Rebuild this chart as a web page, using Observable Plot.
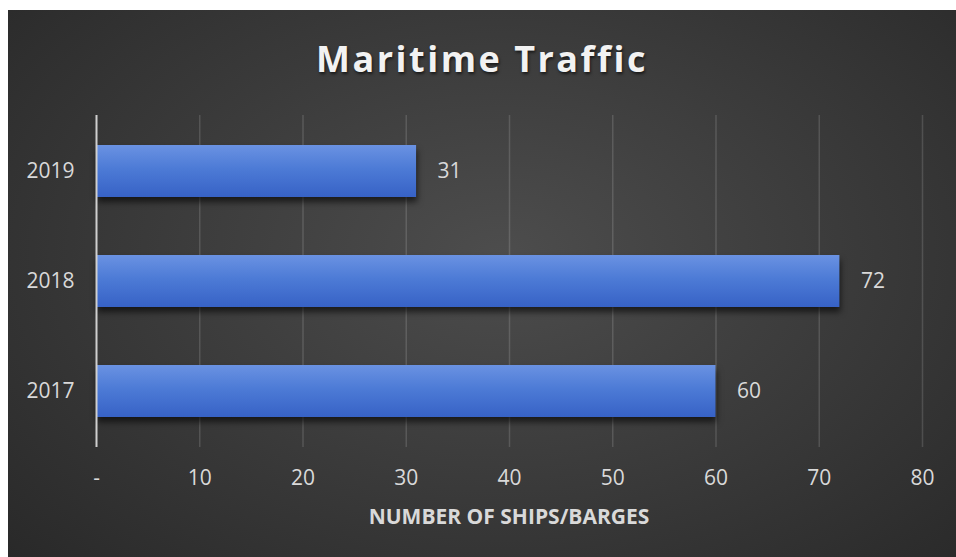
<!DOCTYPE html>
<html>
<head>
<meta charset="utf-8">
<script src="https://cdn.jsdelivr.net/npm/d3@7"></script>
<script src="https://cdn.jsdelivr.net/npm/@observablehq/plot@0.6"></script>
<style>
  html, body { margin: 0; padding: 0; background: #ffffff; }
  #chart {
    position: absolute; left: 8px; top: 10px; width: 948px; height: 547px; overflow: hidden;
    background: radial-gradient(ellipse 75% 85% at 52% 45%, #4d4d4d 0%, #3c3c3c 45%, #272727 100%);
    font-family: "Open Sans", sans-serif;
  }
  #title {
    position: absolute; left: 0; top: 31px; width: 100%; text-align: center;
    font-size: 36px; line-height: 36px; font-weight: 700; letter-spacing: 2.5px;
    color: #f2f2f2; text-shadow: 1px 2px 3px rgba(0,0,0,0.6);
  }
  #xtitle {
    position: absolute; left: 0; top: 492px; width: 1002px; text-align: center;
    font-size: 21px; line-height: 28px; font-weight: 700; color: #d9d9d9;
  }
  #chart svg { position: absolute; left: 0; top: 0; }
</style>
</head>
<body>
<div id="chart">
  <div id="title">Maritime Traffic</div>
  <div id="xtitle">NUMBER OF SHIPS/BARGES</div>
</div>
<script>
const years = ["2019", "2018", "2017"];
const ships = [31, 72, 60];
const xTicks = [0, 10, 20, 30, 40, 50, 60, 70, 80];
const gridTicks = [10, 20, 30, 40, 50, 60, 70, 80];

const data = years.map((y, i) => ({year: y, value: ships[i]}));

const svg = Plot.plot({
  width: 948,
  height: 547,
  marginLeft: 88,
  marginRight: 34,
  marginTop: 105,
  marginBottom: 110,
  style: {background: "transparent", color: "#d9d9d9", fontFamily: "Open Sans, sans-serif", overflow: "visible"},
  x: {domain: [0, 80]},
  y: {type: "band", domain: years, paddingInner: 0.53, paddingOuter: 0.265},
  marks: [
    Plot.ruleX(gridTicks, {stroke: "#ffffff", strokeOpacity: 0.14, strokeWidth: 1.5}),
    Plot.barX(data, {x: "value", y: "year", fill: "url(#barGrad)"}),
    Plot.ruleX([0], {stroke: "#cfcfcf", strokeWidth: 2}),
    Plot.text(data, {x: "value", y: "year", text: d => String(d.value), textAnchor: "start", dx: 21, fontSize: 21, fill: "#d9d9d9"}),
    Plot.axisX(xTicks, {anchor: "bottom", tickSize: 0, tickPadding: 23, fontSize: 21, fill: "#d9d9d9", label: null, tickFormat: d => d === 0 ? "-" : String(d)}),
    Plot.axisY({anchor: "left", tickSize: 0, tickPadding: 22, fontSize: 21, fill: "#d9d9d9", label: null})
  ]
});

const ns = "http://www.w3.org/2000/svg";
const defs = document.createElementNS(ns, "defs");
defs.innerHTML = `
  <linearGradient id="barGrad" x1="0" y1="0" x2="0" y2="1">
    <stop offset="0" stop-color="#6a92e2"/>
    <stop offset="0.45" stop-color="#4d7bd6"/>
    <stop offset="1" stop-color="#3762c6"/>
  </linearGradient>`;
svg.insertBefore(defs, svg.firstChild);
d3.select(svg).selectAll('g[aria-label="bar"]').style("filter", "drop-shadow(1px 5px 3px rgba(0,0,0,0.6))");

document.getElementById("chart").appendChild(svg);
</script>
</body>
</html>
